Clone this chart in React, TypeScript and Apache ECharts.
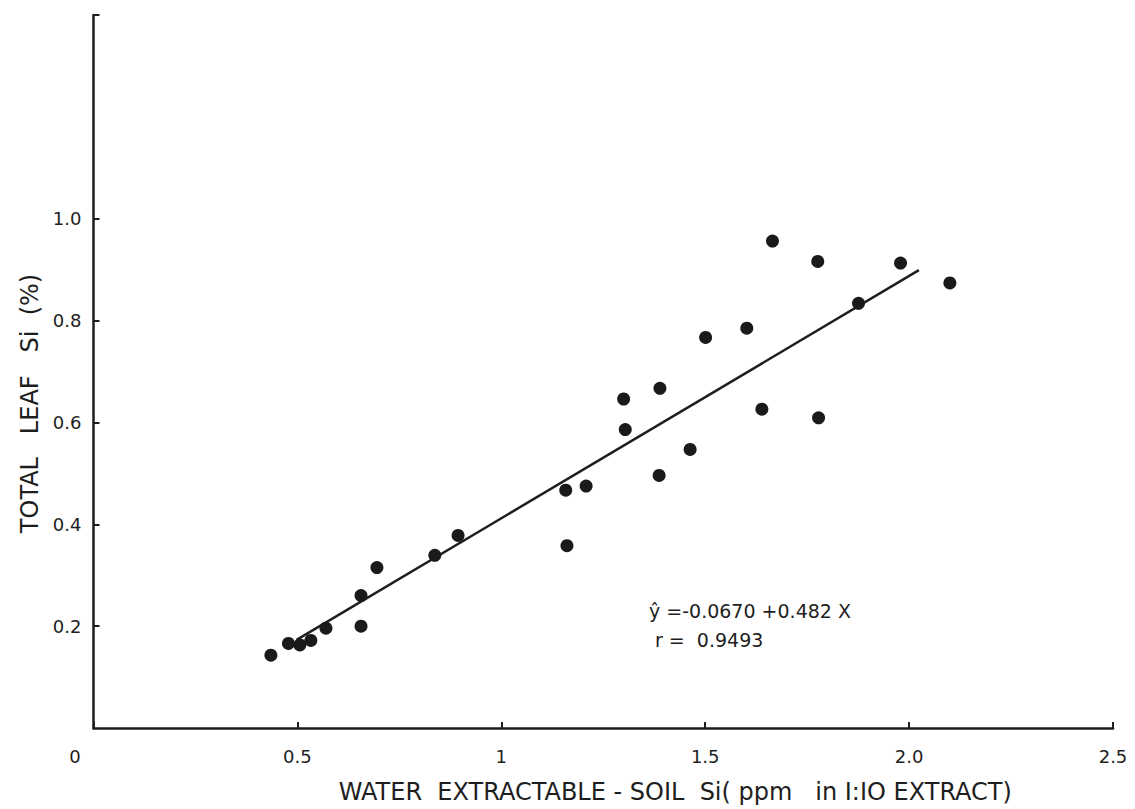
import React, { useEffect, useRef } from "react";
import * as echarts from "echarts";

// Scatter data: water extractable soil Si (x) vs total leaf Si % (y)
const soilSi = [
  0.435, 0.478, 0.506, 0.533, 0.57, 0.656, 0.656, 0.695, 0.837, 0.894,
  1.158, 1.161, 1.208, 1.3, 1.304, 1.389, 1.387, 1.463, 1.501, 1.602,
  1.639, 1.665, 1.776, 1.778, 1.876, 1.979, 2.1,
];
const leafSi = [
  0.143, 0.166, 0.163, 0.172, 0.196, 0.26, 0.2, 0.315, 0.339, 0.378,
  0.467, 0.358, 0.475, 0.646, 0.586, 0.667, 0.496, 0.547, 0.767, 0.785,
  0.626, 0.956, 0.916, 0.609, 0.834, 0.913, 0.874,
];

// Regression line endpoints (ŷ = -0.0670 + 0.482 X)
const fitX = [0.498, 2.024];
const fitY = [0.173, 0.899];

const xTicks = [0, 0.5, 1, 1.5, 2.0, 2.5];
const xTickLabels = ["0", "0.5", "1", "1.5", "2.0", "2.5"];
const yTickValues = [0.2, 0.4, 0.6, 0.8, 1.0, 1.4];
const yLabelValues = [0.2, 0.4, 0.6, 0.8, 1.0];
const yTickLabels = ["0.2", "0.4", "0.6", "0.8", "1.0"];

const equationText = "ŷ =-0.0670 +0.482 X";
const rText = "r =  0.9493";

const FONT = "'DejaVu Sans', 'Liberation Sans', sans-serif";
const INK = "#1e1e1e";

export default function App() {
  const ref = useRef<HTMLDivElement>(null);

  useEffect(() => {
    document.body.style.margin = "0";
    if (!ref.current) return;
    const chart = echarts.init(ref.current, undefined, { renderer: "svg" });

    const points = soilSi.map((x, i) => [x, leafSi[i]]);
    const line = fitX.map((x, i) => [x, fitY[i]]);

    chart.setOption({
      animation: false,
      backgroundColor: "#ffffff",
      grid: { left: 93.5, right: 22, top: 15, bottom: 79, containLabel: false },
      xAxis: {
        type: "value",
        min: 0,
        max: 2.5,
        interval: 0.5,
        name: "WATER  EXTRACTABLE - SOIL  Si( ppm   in I:IO EXTRACT)",
        nameLocation: "middle",
        nameGap: 52,
        nameTextStyle: {
          fontFamily: FONT,
          fontSize: 24,
          color: INK,
          verticalAlign: "top",
          padding: [0, 0, 0, 144],
        },
        axisLine: { show: true, onZero: false, lineStyle: { color: INK, width: 2.5 } },
        axisTick: { show: true, inside: true, length: 6, lineStyle: { color: INK, width: 2 } },
        splitLine: { show: false },
        axisLabel: {
          margin: 19,
          fontFamily: FONT,
          fontSize: 18,
          color: INK,
          formatter: (v: number) => {
            const idx = xTicks.findIndex((t) => Math.abs(t - v) < 1e-6);
            const s = idx >= 0 ? xTickLabels[idx] : "";
            return idx === 0 ? "{z|" + s + "}" : s;
          },
          rich: {
            z: { fontFamily: FONT, fontSize: 18, color: INK, padding: [0, 37, 0, 0] },
          },
        },
      },
      yAxis: {
        type: "value",
        min: 0,
        max: 1.4,
        name: "TOTAL   LEAF   Si  (%)",
        nameLocation: "middle",
        nameGap: 33,
        nameRotate: 90,
        nameTextStyle: {
          fontFamily: FONT,
          fontSize: 24,
          color: INK,
          padding: [0, 64, 0, 0],
        },
        axisLine: { show: true, onZero: false, lineStyle: { color: INK, width: 2.5 } },
        axisTick: {
          show: true,
          inside: true,
          length: 6,
          customValues: yTickValues,
          lineStyle: { color: INK, width: 2 },
        },
        axisLabel: {
          margin: 12,
          fontFamily: FONT,
          fontSize: 18,
          color: INK,
          customValues: yLabelValues,
          formatter: (v: number) => {
            const idx = yLabelValues.findIndex((t) => Math.abs(t - v) < 1e-6);
            return idx >= 0 ? yTickLabels[idx] : "";
          },
        },
        splitLine: { show: false },
      },
      series: [
        {
          type: "line",
          data: line,
          showSymbol: false,
          symbol: "none",
          lineStyle: { color: INK, width: 2.5 },
          z: 2,
        },
        {
          type: "scatter",
          data: points,
          symbol: "circle",
          symbolSize: 13,
          itemStyle: { color: "#1a1a1a", opacity: 1 },
          z: 3,
        },
      ],
      graphic: [
        {
          type: "text",
          left: 649,
          top: 601,
          style: { text: equationText, fontFamily: FONT, fontSize: 19, fill: INK },
        },
        {
          type: "text",
          left: 655,
          top: 630,
          style: { text: rText, fontFamily: FONT, fontSize: 19, fill: INK },
        },
      ],
    });

    return () => chart.dispose();
  }, []);

  return <div ref={ref} style={{ width: 1135, height: 809 }} />;
}
